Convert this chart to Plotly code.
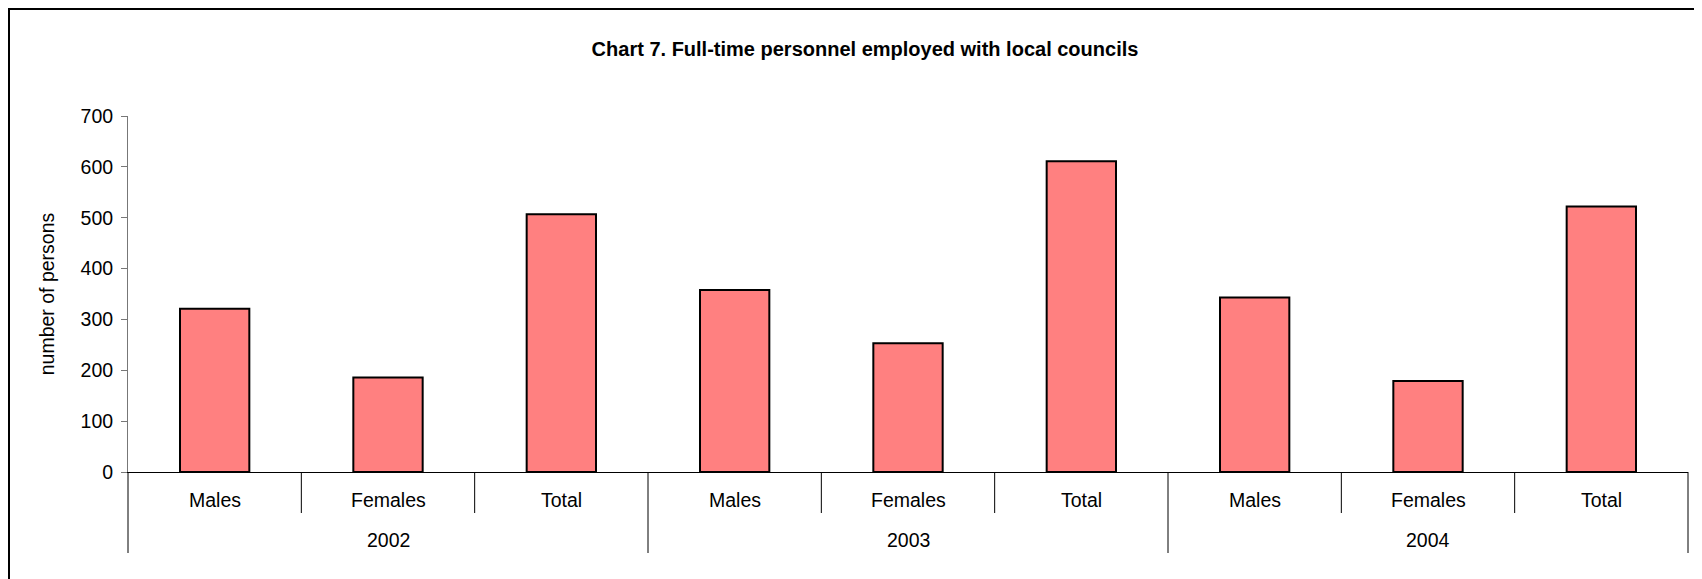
import plotly.graph_objects as go

# ---- data ----
years = ["2002", "2003", "2004"]
groups = ["Males", "Females", "Total"]
values_2002 = [321, 186, 507]
values_2003 = [358, 253, 611]
values_2004 = [343, 179, 522]
y_ticks = [0, 100, 200, 300, 400, 500, 600, 700]
chart_title = "Chart 7. Full-time personnel employed with local councils"
y_title = "number of persons"

values = values_2002 + values_2003 + values_2004
cat_labels = groups * len(years)
n = len(values)
positions = list(range(n))
group_size = len(groups)
inner_bounds = [i - 0.5 for i in range(n + 1)]
group_bounds = [g * group_size - 0.5 for g in range(len(years) + 1)]
year_centers = [g * group_size + (group_size - 1) / 2 for g in range(len(years))]

# ---- layout constants (page body has an 8px margin) ----
W, H = 1694, 571
ML, MR, MT, MB = 120, 14, 108, 107
FONT = "Liberation Sans, Arial, sans-serif"
FS = 19.5
xr = [-0.5, n - 0.5]
pw = W - ML - MR
ph = H - MT - MB


def xp(v):
    """x data value -> paper fraction"""
    return (v - xr[0]) / (xr[1] - xr[0])


fig = go.Figure()
fig.add_trace(go.Bar(
    x=positions, y=values, width=0.4,
    marker=dict(color="#FF8080", line=dict(color="black", width=2)),
    text=cat_labels, hoverinfo="y+text", textposition="none",
    showlegend=False,
))

shapes = []
# category dividers (short) and year dividers (long)
for b in inner_bounds:
    if b in group_bounds:
        continue
    shapes.append(dict(type="line", xref="paper", yref="paper",
                       x0=xp(b), x1=xp(b), y0=0, y1=-41 / ph,
                       line=dict(color="black", width=1)))
for b in group_bounds:
    shapes.append(dict(type="line", xref="paper", yref="paper",
                       x0=xp(b), x1=xp(b), y0=0, y1=-81 / ph,
                       line=dict(color="black", width=1)))
# outer chart border
shapes.append(dict(type="rect", xref="paper", yref="paper",
                   x0=(1 - ML) / pw, x1=(W + 20 - ML) / pw,
                   y0=-(MB + 20) / ph, y1=1 + (MT - 1) / ph,
                   line=dict(color="black", width=2), fillcolor="rgba(0,0,0,0)",
                   layer="below"))

annotations = []
for xpos, lab in zip(positions, cat_labels):
    annotations.append(dict(x=xpos, y=0, xref="x", yref="y", text=lab,
                            showarrow=False, xanchor="center", yanchor="middle",
                            yshift=-28, font=dict(family=FONT, size=FS, color="black")))
for xpos, lab in zip(year_centers, years):
    annotations.append(dict(x=xpos, y=0, xref="x", yref="y", text=lab,
                            showarrow=False, xanchor="center", yanchor="middle",
                            yshift=-68, font=dict(family=FONT, size=FS, color="black")))

fig.update_layout(
    width=W, height=H,
    margin=dict(l=ML, r=MR, t=MT, b=MB, pad=0),
    paper_bgcolor="white", plot_bgcolor="white",
    font=dict(family=FONT, size=FS, color="black"),
    title=dict(text=chart_title, x=857 / W, xref="container", xanchor="center",
               y=1 - 41 / H, yref="container", yanchor="middle",
               font=dict(family=FONT, size=20, color="black", weight="bold")),
    xaxis=dict(range=xr, showgrid=False, zeroline=False, fixedrange=True,
               showticklabels=False, ticks="",
               showline=True, linecolor="black", linewidth=1),
    yaxis=dict(range=[0, 700], tickmode="array", tickvals=y_ticks,
               ticks="outside", ticklen=6, tickwidth=1, tickcolor="#777777",
               showline=True, linecolor="#777777", linewidth=1,
               showgrid=False, zeroline=False, fixedrange=True,
               ticklabelstandoff=4,
               tickfont=dict(family=FONT, size=FS, color="black"),
               title=dict(text=y_title, standoff=20,
                          font=dict(family=FONT, size=FS, color="black"))),
    bargap=0.6,
    shapes=shapes,
    annotations=annotations,
)

fig.write_html("out.html")
